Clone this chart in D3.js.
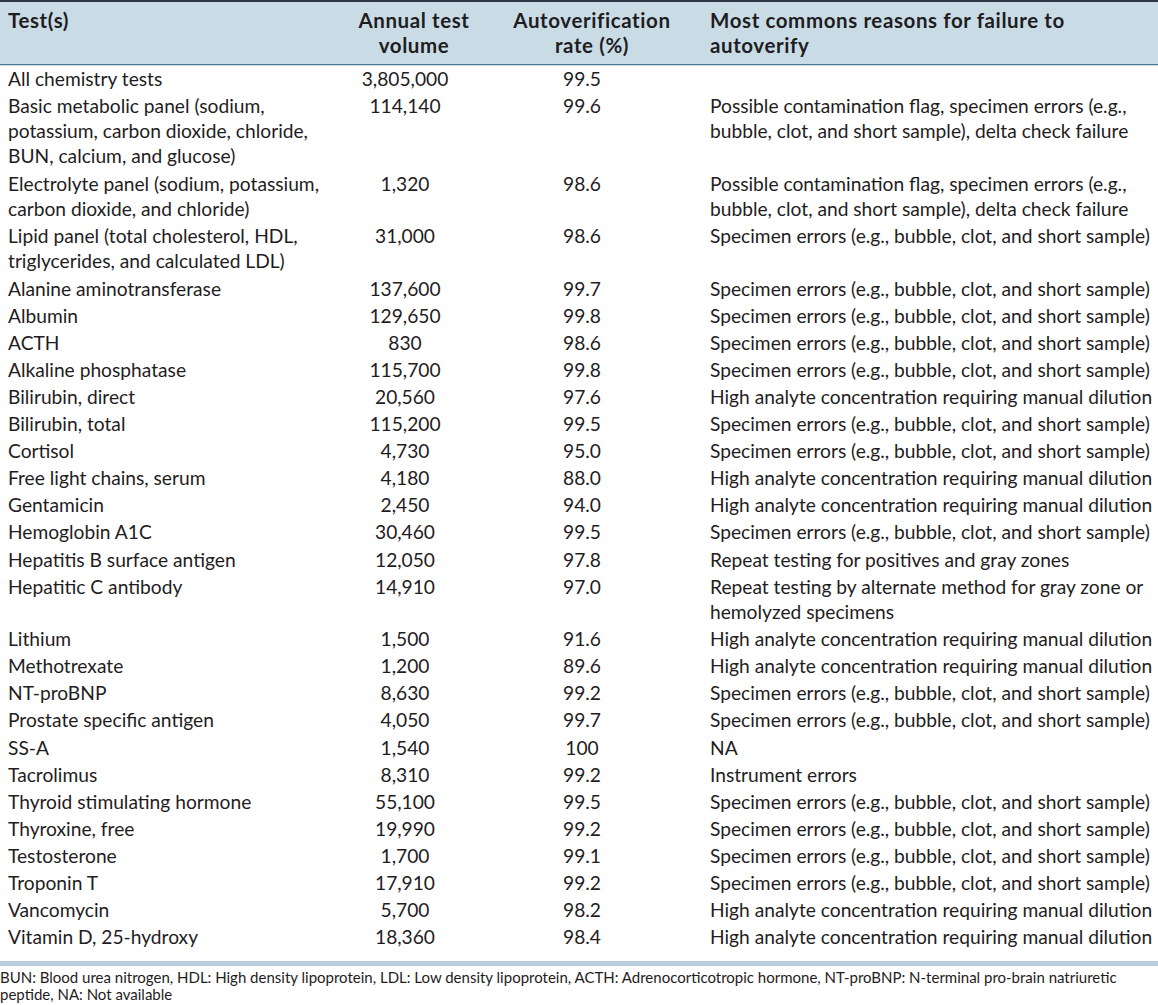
<!DOCTYPE html>
<html><head><meta charset="utf-8">
<script src="https://cdn.jsdelivr.net/npm/d3@7"></script>
<style>body{margin:0;background:#fff}svg{display:block}text{font-family:Lato,"Open Sans",sans-serif;fill:#1f1c22}</style>
</head><body><svg id="c" width="1158" height="1005"></svg>
<script>
const headers = [["Test(s)"],["Annual test","volume"],["Autoverification","rate (%)"],["Most commons reasons for failure to","autoverify"]];
const tests = [["All chemistry tests"],["Basic metabolic panel (sodium,","potassium, carbon dioxide, chloride,","BUN, calcium, and glucose)"],["Electrolyte panel (sodium, potassium,","carbon dioxide, and chloride)"],["Lipid panel (total cholesterol, HDL,","triglycerides, and calculated LDL)"],["Alanine aminotransferase"],["Albumin"],["ACTH"],["Alkaline phosphatase"],["Bilirubin, direct"],["Bilirubin, total"],["Cortisol"],["Free light chains, serum"],["Gentamicin"],["Hemoglobin A1C"],["Hepatitis B surface antigen"],["Hepatitic C antibody"],["Lithium"],["Methotrexate"],["NT-proBNP"],["Prostate specific antigen"],["SS-A"],["Tacrolimus"],["Thyroid stimulating hormone"],["Thyroxine, free"],["Testosterone"],["Troponin T"],["Vancomycin"],["Vitamin D, 25-hydroxy"]];
const volumes = ["3,805,000","114,140","1,320","31,000","137,600","129,650","830","115,700","20,560","115,200","4,730","4,180","2,450","30,460","12,050","14,910","1,500","1,200","8,630","4,050","1,540","8,310","55,100","19,990","1,700","17,910","5,700","18,360"];
const rates = ["99.5","99.6","98.6","98.6","99.7","99.8","98.6","99.8","97.6","99.5","95.0","88.0","94.0","99.5","97.8","97.0","91.6","89.6","99.2","99.7","100","99.2","99.5","99.2","99.1","99.2","98.2","98.4"];
const SPEC = "Specimen errors (e.g., bubble, clot, and short sample)";
const HIGH = "High analyte concentration requiring manual dilution";
const CONT = ["Possible contamination flag, specimen errors (e.g.,","bubble, clot, and short sample), delta check failure"];
const reasons = [[""],CONT,CONT,[SPEC],[SPEC],[SPEC],[SPEC],[SPEC],[HIGH],[SPEC],[SPEC],[HIGH],[HIGH],[SPEC],["Repeat testing for positives and gray zones"],["Repeat testing by alternate method for gray zone or","hemolyzed specimens"],[HIGH],[HIGH],[SPEC],[SPEC],["NA"],["Instrument errors"],[SPEC],[SPEC],[SPEC],[SPEC],[HIGH],[HIGH]];
const footnote = ["BUN: Blood urea nitrogen, HDL: High density lipoprotein, LDL: Low density lipoprotein,  ACTH: Adrenocorticotropic hormone, NT-proBNP: N-terminal pro-brain natriuretic","peptide, NA: Not available"];

const svg = d3.select("#c");
const W = 1158;
const lineH = 25.4, rowGap = 1.7;
const rowLines = tests.map((t,i)=>Math.max(t.length, reasons[i].length));
let acc = 0; const rowStart = [];
rowLines.forEach((n,i)=>{ rowStart.push(acc + i*rowGap/lineH); acc += n; });
const y = d3.scaleLinear().domain([0,1]).range([85.5, 85.5+lineH]);
const colX = {test:8, vol:405, rate:582, reason:710};

// header
svg.append("rect").attr("x",0).attr("y",0).attr("width",W).attr("height",65).attr("fill","#c9dce6");
svg.append("rect").attr("x",0).attr("y",0).attr("width",W).attr("height",2).attr("fill","#2b3640");
svg.append("rect").attr("x",0).attr("y",64).attr("width",W).attr("height",1.3).attr("fill","#4f7891");
const hx = [{x:8,a:"start"},{x:414,a:"middle"},{x:592,a:"middle"},{x:710,a:"start"}];
headers.forEach((h,i)=>{
  h.forEach((ln,j)=>{
    svg.append("text").attr("x",hx[i].x).attr("y",28+j*24.5).attr("text-anchor",hx[i].a)
      .attr("font-size",20.5).attr("font-weight","bold").attr("letter-spacing",0.6).text(ln);
  });
});

const g = svg.append("g").attr("font-size",19.2);
tests.forEach((t,i)=>{
  t.forEach((ln,j)=>g.append("text").attr("x",colX.test).attr("y",y(rowStart[i]+j)).text(ln));
  g.append("text").attr("x",colX.vol).attr("y",y(rowStart[i])).attr("text-anchor","middle").text(volumes[i]);
  g.append("text").attr("x",colX.rate).attr("y",y(rowStart[i])).attr("text-anchor","middle").text(rates[i]);
  reasons[i].forEach((ln,j)=>g.append("text").attr("x",colX.reason).attr("y",y(rowStart[i]+j)).text(ln));
});

svg.append("rect").attr("x",0).attr("y",961).attr("width",W).attr("height",5).attr("fill","#b7cdd9");
footnote.forEach((ln,j)=>svg.append("text").attr("x",0).attr("y",983+j*17).attr("font-size",15).text(ln));
</script></body></html>
